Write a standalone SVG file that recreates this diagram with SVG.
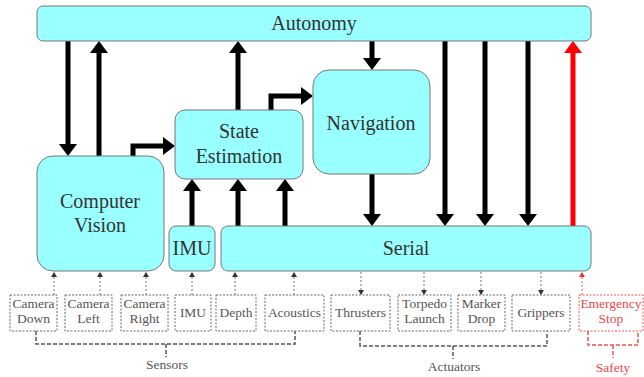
<svg xmlns="http://www.w3.org/2000/svg" width="644" height="377" viewBox="0 0 644 377">
<style>
.node{fill:#99ffff;stroke:#777;stroke-width:1}
.lbl{font-family:"Liberation Serif",serif;font-size:20px;fill:#333;text-anchor:middle}
.sm{font-family:"Liberation Serif",serif;font-size:13.5px;fill:#555;text-anchor:middle}
.smr{font-family:"Liberation Serif",serif;font-size:13.5px;fill:#e8484c;text-anchor:middle}
.box{fill:#fff;stroke:#666;stroke-width:1;stroke-dasharray:2,1.5}
.boxr{fill:#fff;stroke:#ee5555;stroke-width:1;stroke-dasharray:2,1.5}
.thick{fill:none;stroke:#000;stroke-width:5;marker-end:url(#ah)}
.red{fill:none;stroke:#ff0000;stroke-width:5;marker-end:url(#ahr)}
.dot{fill:none;stroke:#777;stroke-width:1;stroke-dasharray:2,2;marker-end:url(#sa)}
.dotr{fill:none;stroke:#ee5555;stroke-width:1;stroke-dasharray:2,2;marker-end:url(#sar)}
.br{fill:none;stroke:#555;stroke-width:1.5;stroke-dasharray:4,2}
.brr{fill:none;stroke:#ee5555;stroke-width:1.5;stroke-dasharray:4,2}
</style>
<defs>
<marker id="ah" markerUnits="userSpaceOnUse" markerWidth="12" markerHeight="18" viewBox="0 0 12 18" refX="1" refY="9" orient="auto"><path d="M0,0 L12,9 L0,18 Z" fill="#000"/></marker>
<marker id="ahr" markerUnits="userSpaceOnUse" markerWidth="12" markerHeight="18" viewBox="0 0 12 18" refX="1" refY="9" orient="auto"><path d="M0,0 L12,9 L0,18 Z" fill="#ff0000"/></marker>
<marker id="sa" markerUnits="userSpaceOnUse" markerWidth="5" markerHeight="6" viewBox="0 0 5 6" refX="5" refY="3" orient="auto"><path d="M0,0 L5,3 L0,6 Z" fill="#333"/></marker>
<marker id="sar" markerUnits="userSpaceOnUse" markerWidth="5" markerHeight="6" viewBox="0 0 5 6" refX="5" refY="3" orient="auto"><path d="M0,0 L5,3 L0,6 Z" fill="#ee3333"/></marker>
</defs>

<g id="connectors">
<path class="thick" d="M68,41 L68,145"/>
<path class="thick" d="M99,156 L99,52"/>
<path class="thick" d="M133,156 L133,146 L164,146"/>
<path class="thick" d="M238,110 L238,52"/>
<path class="thick" d="M271,110 L271,96 L302,96"/>
<path class="thick" d="M192,226 L192,190"/>
<path class="thick" d="M238,226 L238,190"/>
<path class="thick" d="M285,226 L285,190"/>
<path class="thick" d="M372,41 L372,59"/>
<path class="thick" d="M372,174 L372,215"/>
<path class="thick" d="M445,41 L445,215"/>
<path class="thick" d="M485,41 L485,215"/>
<path class="thick" d="M528,41 L528,215"/>
<path class="red" d="M573,226 L573,52"/>
<path class="dot" d="M54,295 L54,272"/>
<path class="dot" d="M100,295 L100,272"/>
<path class="dot" d="M146,295 L146,272"/>
<path class="dot" d="M192,295 L192,272"/>
<path class="dot" d="M235,295 L235,272"/>
<path class="dot" d="M294,295 L294,272"/>
<path class="dot" d="M361,272 L361,295"/>
<path class="dot" d="M424,272 L424,295"/>
<path class="dot" d="M481,272 L481,295"/>
<path class="dot" d="M541,272 L541,295"/>
<path class="dotr" d="M582,295 L582,272"/>
<path class="br" d="M36,331 L36,344 L295,344 L295,331 M166,344 L166,357"/>
<path class="br" d="M360,331 L360,346 L547,346 L547,331 M453,346 L453,359"/>
<path class="brr" d="M588,331 L588,345 L638,345 L638,331 M613,345 L613,358"/>
</g>

<g id="autonomy"><rect class="node" x="37" y="6" width="554" height="35" rx="6"/><text class="lbl" x="314" y="30">Autonomy</text></g>
<g id="computer-vision"><rect class="node" x="37" y="156" width="127" height="115" rx="16"/><text class="lbl" x="100" y="208">Computer</text><text class="lbl" x="100" y="232">Vision</text></g>
<g id="state-estimation"><rect class="node" x="175" y="110" width="128" height="69" rx="10"/><text class="lbl" x="239" y="138">State</text><text class="lbl" x="239" y="163">Estimation</text></g>
<g id="navigation"><rect class="node" x="313" y="70" width="117" height="104" rx="16"/><text class="lbl" x="371" y="130">Navigation</text></g>
<g id="imu"><rect class="node" x="169" y="226" width="46" height="45" rx="7"/><text class="lbl" x="192" y="255">IMU</text></g>
<g id="serial"><rect class="node" x="221" y="226" width="370" height="45" rx="7"/><text class="lbl" x="406" y="255">Serial</text></g>

<g id="camera-down"><rect class="box" x="10" y="295" width="47" height="36"/><text class="sm" x="33.5" y="308">Camera</text><text class="sm" x="33.5" y="323">Down</text></g>
<g id="camera-left"><rect class="box" x="65" y="295" width="47" height="36"/><text class="sm" x="88.5" y="308">Camera</text><text class="sm" x="88.5" y="323">Left</text></g>
<g id="camera-right"><rect class="box" x="121" y="295" width="47" height="36"/><text class="sm" x="144.5" y="308">Camera</text><text class="sm" x="144.5" y="323">Right</text></g>
<g id="imu-sensor"><rect class="box" x="175" y="295" width="36" height="36"/><text class="sm" x="193" y="317">IMU</text></g>
<g id="depth"><rect class="box" x="216" y="295" width="40" height="36"/><text class="sm" x="236" y="317">Depth</text></g>
<g id="acoustics"><rect class="box" x="265" y="295" width="59" height="36"/><text class="sm" x="294.5" y="317">Acoustics</text></g>
<g id="thrusters"><rect class="box" x="331" y="295" width="59" height="36"/><text class="sm" x="360.5" y="317">Thrusters</text></g>
<g id="torpedo-launch"><rect class="box" x="398" y="295" width="53" height="36"/><text class="sm" x="424.5" y="308">Torpedo</text><text class="sm" x="424.5" y="323">Launch</text></g>
<g id="marker-drop"><rect class="box" x="458" y="295" width="47" height="36"/><text class="sm" x="481.5" y="308">Marker</text><text class="sm" x="481.5" y="323">Drop</text></g>
<g id="grippers"><rect class="box" x="512" y="295" width="58" height="36"/><text class="sm" x="541" y="317">Grippers</text></g>
<g id="emergency-stop"><rect class="boxr" x="579" y="295" width="64" height="36"/><text class="smr" x="611" y="308">Emergency</text><text class="smr" x="611" y="323">Stop</text></g>

<g id="sensors-label"><text class="sm" x="167" y="369">Sensors</text></g>
<g id="actuators-label"><text class="sm" x="454" y="371">Actuators</text></g>
<g id="safety-label"><text class="smr" x="613" y="372">Safety</text></g>
</svg>
